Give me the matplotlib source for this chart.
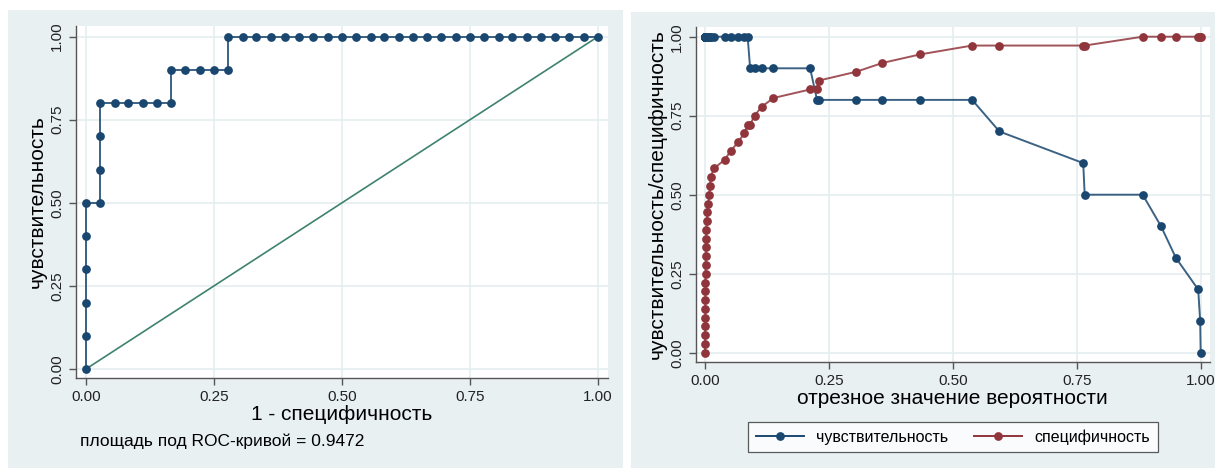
import matplotlib.pyplot as plt
from matplotlib.patches import Rectangle
from matplotlib.lines import Line2D

plt.rcParams['font.family'] = ['Liberation Sans', 'DejaVu Sans']

# left panel: ROC curve (1 - specificity, sensitivity)
roc_fpr = [0.0, 0.0, 0.0, 0.0, 0.0, 0.0,
           0.028, 0.028, 0.028, 0.028,
           0.056, 0.083, 0.111, 0.139, 0.167,
           0.167, 0.194, 0.222, 0.250, 0.278,
           0.278, 0.306, 0.333, 0.361, 0.389, 0.417, 0.444, 0.472, 0.500,
           0.528, 0.556, 0.583, 0.611, 0.639, 0.667, 0.694, 0.722, 0.750,
           0.778, 0.806, 0.833, 0.861, 0.889, 0.917, 0.944, 0.972, 1.0]
roc_tpr = [0.0, 0.1, 0.2, 0.3, 0.4, 0.5,
           0.5, 0.6, 0.7, 0.8,
           0.8, 0.8, 0.8, 0.8, 0.8,
           0.9, 0.9, 0.9, 0.9, 0.9] + [1.0] * 27
auc_text = 'площадь под ROC-кривой = 0.9472'

# right panel: sensitivity / specificity vs cutoff
cutoff = [0.0000, 0.0001, 0.0002, 0.0003, 0.0004, 0.0005, 0.0006, 0.0008,
          0.0009, 0.0011, 0.0013, 0.0015, 0.0018, 0.0021, 0.0026,
          0.0034, 0.0047, 0.0067, 0.0087, 0.0100, 0.0114, 0.0180, 0.0400,
          0.0520, 0.0670, 0.0790,
          0.0860,
          0.0910, 0.1000, 0.1140, 0.1380,
          0.2120,
          0.2260, 0.2290, 0.3050, 0.3580, 0.4340,
          0.5390, 0.5940, 0.7630,
          0.7660,
          0.8830, 0.9200, 0.9500, 0.9950, 0.9990,
          1.0]
sens = [1.0] * 27 + [0.9] * 5 + [0.8] * 6 + [0.7, 0.6, 0.5, 0.5, 0.4, 0.3, 0.2, 0.1, 0.0]
spec = [0.000, 0.028, 0.056, 0.083, 0.111, 0.139, 0.167, 0.194, 0.222, 0.250,
        0.278, 0.306, 0.333, 0.361, 0.389, 0.417, 0.444, 0.472, 0.500, 0.528,
        0.556, 0.583, 0.611, 0.639, 0.667, 0.694,
        0.722,
        0.722, 0.750, 0.778, 0.806,
        0.833,
        0.833, 0.861, 0.889, 0.917, 0.944,
        0.972, 0.972, 0.972,
        0.972,
        1.0, 1.0, 1.0, 1.0, 1.0,
        1.0]

ticks = [0, 0.25, 0.5, 0.75, 1.0]
tick_labels = ['0.00', '0.25', '0.50', '0.75', '1.00']

navy = '#1A476F'
maroon = '#90353B'
diag_col = '#3E8270'
panel_bg = '#E8F0F2'
grid_col = '#E4EDF0'
ms = 6.3

W, H = 1215, 468
fig = plt.figure(figsize=(W / 100, H / 100), dpi=100)

# panel backgrounds
fig.add_artist(Rectangle((8 / W, 0), 615 / W, 458 / H, transform=fig.transFigure,
                         facecolor=panel_bg, edgecolor='none', zorder=-5))
fig.add_artist(Rectangle((631 / W, 0), 584 / W, 456 / H, transform=fig.transFigure,
                         facecolor=panel_bg, edgecolor='none', zorder=-5))


def style(ax):
    ax.set_xticks(ticks)
    ax.set_xticklabels(tick_labels)
    ax.set_yticks(ticks)
    ax.set_yticklabels(tick_labels, rotation=90, va='center')
    for s in ['top', 'right']:
        ax.spines[s].set_visible(False)
    for s in ['left', 'bottom']:
        ax.spines[s].set_color('#555555')
        ax.spines[s].set_linewidth(1.0)
    ax.tick_params(direction='out', length=5, width=1, color='#555555',
                   labelsize=11, labelcolor='#222222')
    ax.grid(True, color=grid_col, linewidth=1.2)
    ax.set_axisbelow(True)


ax1 = fig.add_axes([75.7 / W, 1 - 378 / H, 532.5 / W, 352 / H])
ax1.plot([0, 1], [0, 1], color=diag_col, lw=1.2, zorder=2)
ax1.plot(roc_fpr, roc_tpr, color=navy, lw=1.4, alpha=0.85, zorder=3)
ax1.plot(roc_fpr, roc_tpr, 'o', color=navy, ms=ms, mew=0, zorder=4)
ax1.set_xlim(-0.02, 1.02)
ax1.set_ylim(-0.027, 1.032)
style(ax1)
ax1.set_xlabel('1 - специфичность', fontsize=15, labelpad=1)
ax1.set_ylabel('чувствительность', fontsize=15, labelpad=2)
fig.text(80 / W, 1 - 441 / H, auc_text, fontsize=12.5, va='center', ha='left')

ax2 = fig.add_axes([695.7 / W, 1 - 361.7 / H, 514.3 / W, 334.7 / H])
ax2.plot(cutoff, sens, color=navy, lw=1.4, alpha=0.85, zorder=3)
ax2.plot(cutoff, sens, 'o', color=navy, ms=ms, mew=0, zorder=4)
ax2.plot(cutoff, spec, color=maroon, lw=1.4, alpha=0.85, zorder=3)
ax2.plot(cutoff, spec, 'o', color=maroon, ms=ms, mew=0, zorder=4)
ax2.set_xlim(-0.0188, 1.0188)
ax2.set_ylim(-0.0285, 1.0307)
style(ax2)
ax2.set_xlabel('отрезное значение вероятности', fontsize=15, labelpad=1)
ax2.set_ylabel('чувствительность/специфичность', fontsize=15, labelpad=2)

handles = [Line2D([], [], color=navy, lw=1.4, marker='o', ms=ms, mew=0,
                  markerfacecolor=navy),
           Line2D([], [], color=maroon, lw=1.4, marker='o', ms=ms, mew=0,
                  markerfacecolor=maroon)]
leg = fig.legend(handles, ['чувствительность', 'специфичность'], loc='center',
                 bbox_to_anchor=(953 / W, 1 - 437 / H), ncol=2, fontsize=11.5,
                 frameon=True, fancybox=False, edgecolor='#333333',
                 handlelength=3.0, columnspacing=1.6, borderpad=0.45,
                 handletextpad=0.8, borderaxespad=0.3)
leg.get_frame().set_linewidth(0.9)

fig.savefig('out.png', dpi=100)
